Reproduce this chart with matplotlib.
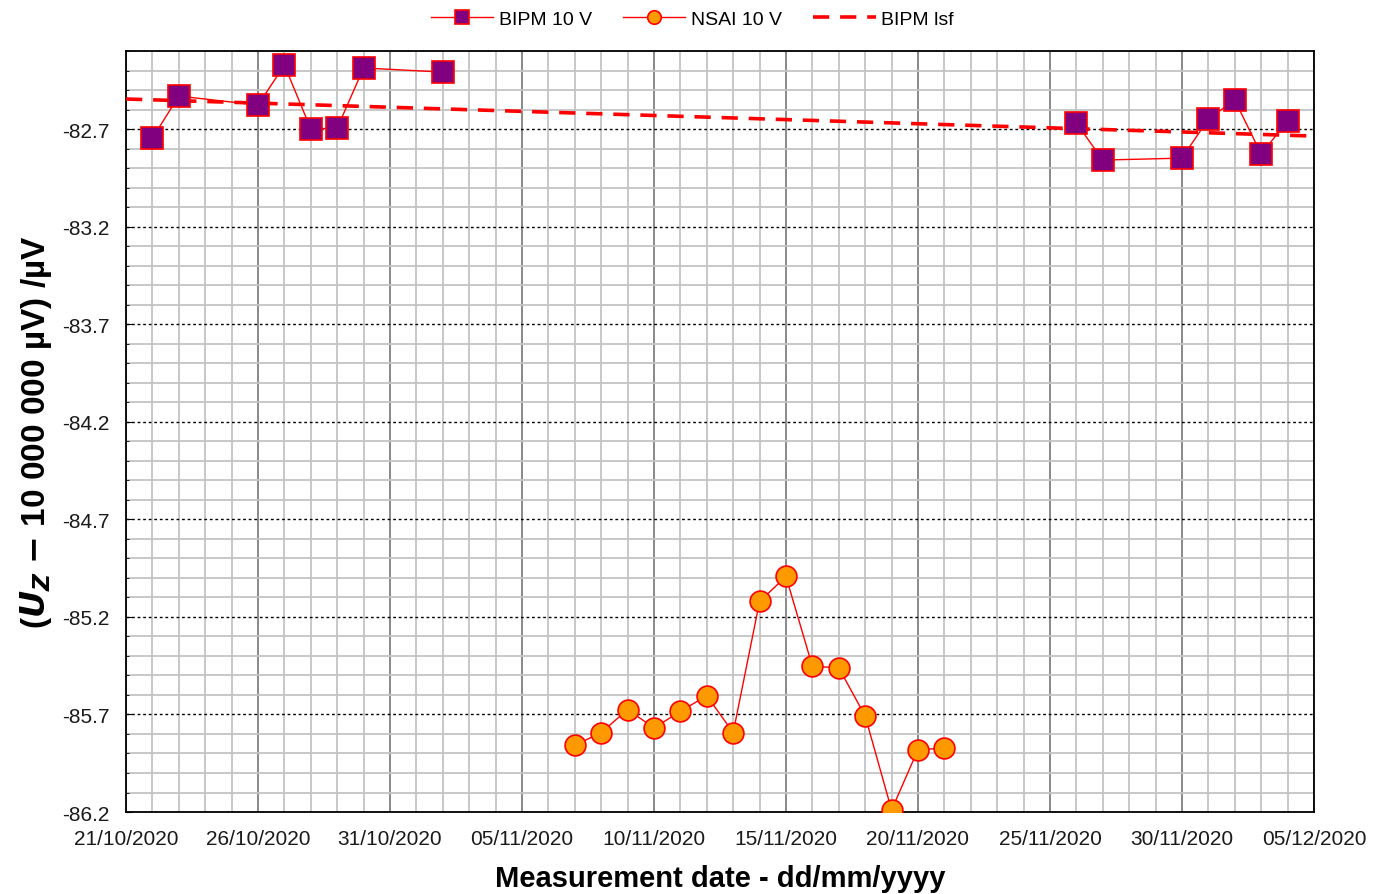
import datetime as dt
import numpy as np
import matplotlib
matplotlib.use('Agg')
import matplotlib.pyplot as plt
import matplotlib.dates as mdates
from matplotlib.ticker import MultipleLocator

plt.rcParams['font.family'] = ['Liberation Sans', 'DejaVu Sans']

# BIPM 10 V measurements
bipm_dates = ['2020-10-22', '2020-10-23', '2020-10-26', '2020-10-27', '2020-10-28',
              '2020-10-29', '2020-10-30', '2020-11-02', '2020-11-26', '2020-11-27',
              '2020-11-30', '2020-12-01', '2020-12-02', '2020-12-03', '2020-12-04']
bipm_vals = [-82.746, -82.531, -82.577, -82.372, -82.700, -82.695, -82.387, -82.408,
             -82.669, -82.859, -82.849, -82.649, -82.551, -82.828, -82.659]

# NSAI 10 V measurements
nsai_dates = ['2020-11-07', '2020-11-08', '2020-11-09', '2020-11-10', '2020-11-11',
              '2020-11-12', '2020-11-13', '2020-11-14', '2020-11-15', '2020-11-16',
              '2020-11-17', '2020-11-18', '2020-11-19', '2020-11-20', '2020-11-21']
nsai_vals = [-85.858, -85.793, -85.675, -85.769, -85.684, -85.604, -85.793, -85.121,
             -84.993, -85.453, -85.461, -85.708, -86.190, -85.880, -85.873]

# BIPM least-squares fit line (end points)
lsf_dates = ['2020-10-21', '2020-12-05']
lsf_vals = [-82.546, -82.736]

xticks = ['2020-10-21', '2020-10-26', '2020-10-31', '2020-11-05', '2020-11-10',
          '2020-11-15', '2020-11-20', '2020-11-25', '2020-11-30', '2020-12-05']


def to_dt(lst):
    return [dt.datetime.strptime(s, '%Y-%m-%d') for s in lst]


# break the BIPM line where there is a long gap between measurement runs
bd = to_dt(bipm_dates)
bx, by = [], []
for i, (d, v) in enumerate(zip(bd, bipm_vals)):
    if i > 0 and (d - bd[i - 1]).days > 7:
        bx.append(d - dt.timedelta(days=1))
        by.append(np.nan)
    bx.append(d)
    by.append(v)

fig = plt.figure(figsize=(13.85, 8.95), dpi=100)
ax = fig.add_axes([0.091, 0.0916, 0.8577, 0.8503])

ax.plot(bx, by, color='#ff0000', lw=1.0, marker='s', ms=16,
        mfc='#800080', mec='#ff0000', mew=1.2, label='BIPM 10 V', zorder=5)
ax.plot(to_dt(nsai_dates), nsai_vals, color='#ff0000', lw=1.0, marker='o', ms=15,
        mfc='#ff9900', mec='#ff0000', mew=1.2, label='NSAI 10 V', zorder=5)
ax.plot(to_dt(lsf_dates), lsf_vals, color='#ff0000', lw=2.6, ls=(0, (4.5, 3)),
        label='BIPM lsf', zorder=4)

ax.set_xlim(to_dt(['2020-10-21'])[0], to_dt(['2020-12-05'])[0])
ax.set_ylim(-86.2, -82.3)

ax.set_xticks(to_dt(xticks))
ax.xaxis.set_major_formatter(mdates.DateFormatter('%d/%m/%Y'))
ax.xaxis.set_minor_locator(mdates.DayLocator())
ax.set_yticks(np.arange(-86.2, -82.6, 0.5))
ax.yaxis.set_major_formatter(plt.FormatStrFormatter('%.1f'))
ax.yaxis.set_minor_locator(MultipleLocator(0.1))

ax.grid(which='minor', axis='both', color='#c4c4c4', lw=1.3)
ax.grid(which='major', axis='x', color='#808080', lw=1.3)
ax.grid(which='major', axis='y', color='black', lw=1.0, ls=(0, (2, 2)))
ax.set_axisbelow(True)

ax.tick_params(axis='both', which='major', labelsize=15, direction='in', length=4,
               labelcolor='#1a1a1a')
ax.tick_params(axis='y', which='major', pad=12)
ax.tick_params(axis='y', which='minor', direction='in', length=2)
ax.tick_params(axis='x', which='minor', length=0)
ax.tick_params(axis='x', which='major', length=0, pad=12)
for s in ax.spines.values():
    s.set_color('black')
    s.set_linewidth(1.3)

ax.set_xlabel('Measurement date - dd/mm/yyyy', fontsize=21, fontweight='bold', labelpad=12)
ax.set_ylabel(r'($\mathbfit{U}_{\mathbfit{Z}}$ $\mathbf{-}$ 10 000 000 µV) /µV', fontsize=24,
              fontweight='bold', labelpad=6)

fig.legend(*ax.get_legend_handles_labels(), loc='center',
           bbox_to_anchor=(0.5, 1 - 20 / 895), ncol=3, frameon=False,
           fontsize=14, handlelength=3.2, columnspacing=1.6, handletextpad=0.3,
           markerscale=0.65)

fig.savefig('out.png', dpi=100)
